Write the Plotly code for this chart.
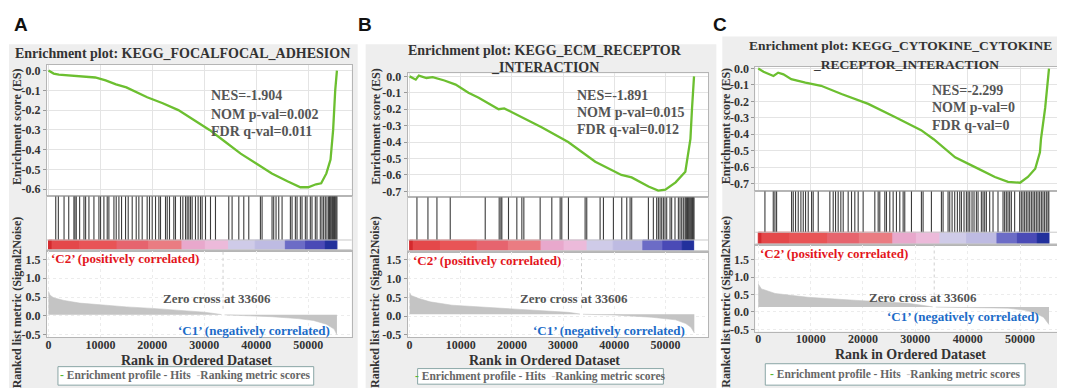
import plotly.graph_objects as go

W, H = 1065, 388
SERIF = "Liberation Serif, Times New Roman, serif"
SANS = "Liberation Sans, Arial, sans-serif"

# ---------------- DATA ----------------
panel_letters = ["A", "B", "C"]
title_lines = [
    ["Enrichment plot: KEGG_FOCALFOCAL_ADHESION"],
    ["Enrichment plot: KEGG_ECM_RECEPTOR", "_INTERACTION"],
    ["Enrichment plot: KEGG_CYTOKINE_CYTOKINE", "_RECEPTOR_INTERACTION"],
]
stats_lines = [
    ["NES=-1.904", "NOM p-val=0.002", "FDR q-val=0.011"],
    ["NES=-1.891", "NOM p-val=0.015", "FDR q-val=0.012"],
    ["NES=-2.299", "NOM p-val=0", "FDR q-val=0"],
]
zero_cross = 33606
pos_label = "‘C2’ (positively correlated)"
neg_label = "‘C1’ (negatively correlated)"

# running enrichment score
es_rank_A = [0, 1000, 2000, 4000, 7000, 9000, 11000, 13000, 15000, 17000, 19000, 22000, 25000,
             28000, 31000, 34000, 37000, 40000, 43000, 46000, 48500, 50000, 51500, 52500, 53500,
             54300, 54800, 55200, 55530]
es_A = [0, -0.015, -0.02, -0.025, -0.03, -0.035, -0.05, -0.07, -0.085, -0.11, -0.135, -0.165, -0.2,
        -0.25, -0.3, -0.36, -0.42, -0.47, -0.52, -0.56, -0.59, -0.59, -0.575, -0.57, -0.52,
        -0.45, -0.3, -0.1, 0.0]
es_rank_B = [0, 1200, 1800, 3300, 4500, 5700, 6800, 9000, 11500, 13500, 17400, 18500, 21900, 25800,
             31000, 36300, 41400, 43400, 46700, 48600, 50000, 52000, 53900, 54500, 54900, 55200, 55600]
es_B = [0, -0.02, 0.005, -0.01, -0.005, -0.015, -0.025, -0.05, -0.1, -0.13, -0.2, -0.195, -0.25, -0.31,
        -0.4, -0.52, -0.6, -0.615, -0.67, -0.695, -0.69, -0.645, -0.58, -0.46, -0.38, -0.2, 0.0]
es_rank_C = [0, 1000, 2900, 3800, 4800, 6300, 9000, 12000, 15900, 21000, 26100, 31100, 33500, 37600,
             41400, 45200, 47700, 50000, 51500, 52900, 53800, 54000, 54800, 55530]
es_C = [0, -0.02, -0.045, -0.025, -0.035, -0.065, -0.085, -0.105, -0.155, -0.215, -0.295, -0.375, -0.43,
        -0.54, -0.6, -0.66, -0.69, -0.695, -0.66, -0.61, -0.51, -0.43, -0.24, 0.0]

# gene-set hits (rank positions)
hits_A = [1400, 1900, 3000, 3900, 4900, 5100, 5350, 6000, 6830, 7150, 7790, 8750, 9710, 10030, 10670,
          11310, 11630, 12600, 13040, 13560, 14070, 14840, 15350, 16120, 16890, 17400, 18040, 19000,
          19450, 19970, 20610, 21250, 21570, 22530, 22860, 23300, 24130, 24450, 25420, 25870, 26380,
          26700, 27020, 27340, 27660, 28300, 28810, 29260, 29580, 30230, 31190, 32150, 34710, 35350,
          36640, 37600, 38560, 40800, 41120, 43040, 43360, 43810, 44330, 44970, 46570, 46890, 47530,
          47850, 48490, 48810, 49450, 49770, 50410, 50730, 51370, 51690, 52330, 52650, 52970, 53290,
          53610, 53930, 54100, 54250, 54400, 54570, 54700, 54890, 55050, 55210, 55370, 55530]
hits_B = [1430, 3580, 5340, 7940, 14780, 17510, 17840, 18030, 19330, 20960, 21940, 22330, 25520, 27800,
          29430, 29750, 31050, 34310, 34630, 37240, 37890, 39840, 41470, 42450, 43100, 43420, 46680,
          47650, 48300, 48630, 48960, 49280, 49610, 49930, 50260, 50910, 51230, 51880, 52540, 52860,
          53190, 53510, 53840, 54000, 54160, 54330, 54490, 54650, 54810, 54970, 55140, 55300, 55460,
          55600]
hits_C = [1270, 2860, 3180, 3500, 6360, 6680, 7120, 7630, 8140, 8590, 9030, 9540, 10180, 10490, 11450,
          13670, 14310, 14760, 15260, 15770, 16220, 17170, 17810, 18440, 19080, 20030, 22260, 22900,
          23210, 24170, 24490, 25120, 25760, 26390, 27030, 27670, 27980, 29260, 31160, 31480, 33070,
          34980, 35300, 36250, 36570, 37020, 37520, 38030, 38480, 38800, 39300, 39750, 40070, 40390,
          40830, 41210, 41660, 41980, 42610, 42930, 43250, 43570, 44200, 44840, 45790, 46750, 47060,
          47380, 47700, 48020, 48340, 48970, 49930, 50240, 50560, 50880, 51200, 51520, 51840, 52160,
          52480, 52790, 53110, 53430, 53750, 54070, 54380, 54700, 55020, 55340, 55500]

# ranked list metric (Signal2Noise)
met_rank_A = [0, 300, 1000, 3000, 6000, 10000, 15000, 20000, 25000, 30000, 33606, 38000, 43000, 48000,
              51000, 53500, 55000, 55530]
met_A = [0.65, 0.55, 0.48, 0.41, 0.34, 0.29, 0.24, 0.2, 0.15, 0.1, 0.03, 0.01, -0.02, -0.07,
         -0.12, -0.22, -0.35, -0.5]
met_base_A = 0.03
met_rank_B = [0, 300, 1800, 4000, 8300, 13000, 18000, 25000, 31000, 33606, 40000, 47300, 52000, 54000,
              55000, 55660]
met_B = [0.63, 0.55, 0.47, 0.38, 0.29, 0.25, 0.21, 0.15, 0.1, 0.05, 0.03, -0.03, -0.1, -0.2, -0.3, -0.45]
met_base_B = 0.05
met_rank_C = [0, 600, 3200, 9500, 19000, 28600, 33606, 40000, 47700, 51000, 52900, 54500, 55530]
met_C = [0.8, 0.66, 0.53, 0.42, 0.33, 0.25, 0.14, 0.13, 0.11, 0.05, -0.03, -0.15, -0.36]
met_base_C = 0.14

# phenotype colour bar (rank boundaries and colours)
cbar_edges = [0, 700, 6000, 13200, 19300, 25700, 30200, 34700, 39800, 45600, 49500, 53300, 55530]
cbar_colors = ['#d42a2e', '#e4484a', '#e85456', '#e6646e', '#ea7c82', '#e8a8cc', '#ecbada',
               '#cfcbe8', '#bebbe2', '#6c6cc6', '#4a4ab6', '#22309c']

x_ticks = [0, 10000, 20000, 30000, 40000, 50000]
es_ticks_A = [0.0, -0.1, -0.2, -0.3, -0.4, -0.5, -0.6]
es_ticks_BC = [0.0, -0.1, -0.2, -0.3, -0.4, -0.5, -0.6, -0.7]
met_ticks = [1.5, 1.0, 0.5, 0.0, -0.5]

datasets = [
    dict(es_x=es_rank_A, es_y=es_A, hits=hits_A, mx=met_rank_A, my=met_A, base=met_base_A, es_ticks=es_ticks_A),
    dict(es_x=es_rank_B, es_y=es_B, hits=hits_B, mx=met_rank_B, my=met_B, base=met_base_B, es_ticks=es_ticks_BC),
    dict(es_x=es_rank_C, es_y=es_C, hits=hits_C, mx=met_rank_C, my=met_C, base=met_base_C, es_ticks=es_ticks_BC),
]

# ---------------- LAYOUT (pixel geometry) ----------------
geo = [
    dict(left=38, right=343, es_top=53, es_bot=188, hits_bot=244, cb_top=233, cb_bot=243, met_bot=333,
         xr=[-290, 58370], esr=[-0.635, 0.03], metr=[-0.57, 1.73], bg=(0, 349, 32, 386), letter=(12, 12),
         tpos=[(174, 42, 'center')], tsize=14, stx=200, sty=[85, 104, 122], c2=(40, 252), zc=(208, 293),
         c1=(323, 326), xt=(188, 357), leg=(49, 305, 363, 382), ytx=8, esty=117, mety=297),
    dict(left=399, right=700, es_top=62, es_bot=189, hits_bot=245, cb_top=233, cb_bot=244, met_bot=333,
         xr=[-390, 58400], esr=[-0.735, 0.018], metr=[-0.57, 1.72], bg=(357, 708, 32, 386), letter=(356, 12),
         tpos=[(537, 38, 'center'), (537, 56, 'center')], tsize=14, stx=567, sty=[85, 102, 120],
         c2=(402, 254), zc=(566, 293), c1=(679, 326), xt=(536, 357), leg=(409, 655, 365, 381),
         ytx=367, esty=117, mety=297),
    dict(left=747, right=1057, es_top=55, es_bot=183, hits_bot=238, cb_top=225, cb_bot=237, met_bot=327,
         xr=[-570, 58590], esr=[-0.747, 0.012], metr=[-0.56, 1.92], bg=(714, 1065, 24, 386), letter=(712, 12),
         tpos=[(739, 33, 'left'), (898, 53, 'center')], tsize=13.5, stx=922, sty=[80, 97, 115],
         c2=(750, 247), zc=(915, 292), c1=(1033, 312), xt=(902, 351), leg=(757, 1017, 360, 382),
         ytx=718, esty=116, mety=296),
]

def px(x):
    return x / W

def py(y):
    return 1 - y / H

fig = go.Figure()
layout = {}
shapes = []
annotations = []

tickfont = dict(family=SERIF, size=12, color='#333333')

def bold_labels(vals):
    out = []
    for v in vals:
        s = f"{abs(v):.1f}"
        out.append(f"<b>{'-' if v < 0 else ''}{s}</b>")
    return out

def ann(x, y, text, size, color, xanchor='center', angle=0, family=SERIF):
    annotations.append(dict(x=px(x), y=py(y), xref='paper', yref='paper', text=text, showarrow=False,
                            xanchor=xanchor, yanchor='middle', textangle=angle,
                            font=dict(family=family, size=size, color=color)))

# backgrounds first
for g in geo:
    l, r, t, b = g['bg']
    shapes.append(dict(type='rect', xref='paper', yref='paper', x0=px(l), x1=px(r), y0=py(b), y1=py(t),
                       fillcolor='#eeeeee', line=dict(width=0), layer='below'))
    shapes.append(dict(type='rect', xref='paper', yref='paper', x0=px(g['left']), x1=px(g['right']),
                       y0=py(g['met_bot']), y1=py(g['es_top']), fillcolor='white', line=dict(width=0),
                       layer='below'))
    l, r, t, b = g['leg']
    shapes.append(dict(type='rect', xref='paper', yref='paper', x0=px(l), x1=px(r), y0=py(b), y1=py(t),
                       fillcolor='white', line=dict(width=1, color='#8aa6a6'), layer='below'))

for i, (d, g) in enumerate(zip(datasets, geo)):
    n1, n2, n3 = 3 * i + 1, 3 * i + 2, 3 * i + 3
    xdom = [px(g['left']), px(g['right'])]
    hh = g['hits_bot'] - g['es_bot']
    cb_y1 = (g['hits_bot'] - g['cb_top']) / hh
    cb_y0 = (g['hits_bot'] - g['cb_bot']) / hh

    common_x = dict(domain=xdom, range=g['xr'], showline=True, mirror=True, linecolor='#b5b5b5',
                    linewidth=1, zeroline=False, tickvals=x_ticks)
    # ES axes
    layout[f'xaxis{n1}'] = dict(common_x, anchor=f'y{n1}', showticklabels=False, showgrid=True,
                                gridcolor='#e4e4e4', ticks='')
    layout[f'yaxis{n1}'] = dict(domain=[py(g['es_bot']), py(g['es_top'])], range=g['esr'], anchor=f'x{n1}',
                                tickvals=d['es_ticks'], ticktext=bold_labels(d['es_ticks']),
                                showline=True, mirror=True, linecolor='#b5b5b5', showgrid=True,
                                gridcolor='#e4e4e4', zeroline=False, ticks='outside', ticklen=3,
                                tickcolor='#999999', tickfont=tickfont)
    # hits axes
    layout[f'xaxis{n2}'] = dict(common_x, anchor=f'y{n2}', showticklabels=False, showgrid=False, ticks='')
    layout[f'yaxis{n2}'] = dict(domain=[py(g['hits_bot']), py(g['es_bot'])], range=[0, 1], anchor=f'x{n2}',
                                showticklabels=False, showgrid=False, zeroline=False, showline=True,
                                mirror=True, linecolor='#c8c8c8', ticks='')
    # metric axes
    layout[f'xaxis{n3}'] = dict(common_x, anchor=f'y{n3}', showgrid=True, gridcolor='#ececec', griddash='dot',
                                ticks='', ticktext=[f"<b>{v}</b>" for v in x_ticks], tickfont=tickfont,
                                ticklabelstandoff=-4)
    layout[f'yaxis{n3}'] = dict(domain=[py(g['met_bot']), py(g['hits_bot'])], range=g['metr'], anchor=f'x{n3}',
                                tickvals=met_ticks, ticktext=bold_labels(met_ticks),
                                showline=True, mirror=True, linecolor='#b5b5b5', showgrid=True,
                                gridcolor='#ececec', griddash='dot', zeroline=False, ticks='outside',
                                ticklen=3, tickcolor='#999999', tickfont=tickfont)

    # ES curve
    fig.add_trace(go.Scatter(x=d['es_x'], y=d['es_y'], xaxis=f'x{n1}', yaxis=f'y{n1}', mode='lines',
                             line=dict(color='#6cbf30', width=2.3), hoverinfo='skip'))
    # hits
    hx, hy = [], []
    for r in d['hits']:
        hx += [r, r, None]
        hy += [cb_y1, 1, None]
    fig.add_trace(go.Scatter(x=hx, y=hy, xaxis=f'x{n2}', yaxis=f'y{n2}', mode='lines',
                             line=dict(color='#3c3c3c', width=1.1), hoverinfo='skip'))
    # colour bar
    centers = [(a + b) / 2 for a, b in zip(cbar_edges[:-1], cbar_edges[1:])]
    widths = [b - a for a, b in zip(cbar_edges[:-1], cbar_edges[1:])]
    fig.add_trace(go.Bar(x=centers, y=[cb_y1 - cb_y0] * len(centers), base=cb_y0, width=widths,
                         marker=dict(color=cbar_colors, line=dict(width=1, color=cbar_colors)),
                         xaxis=f'x{n2}', yaxis=f'y{n2}', hoverinfo='skip'))
    shapes.append(dict(type='line', xref=f'x{n2} domain', yref=f'y{n2}', x0=0, x1=1, y0=cb_y1, y1=cb_y1,
                       line=dict(color='#c8c8c8', width=1)))
    shapes.append(dict(type='line', xref=f'x{n2} domain', yref=f'y{n2}', x0=0, x1=1, y0=cb_y0, y1=cb_y0,
                       line=dict(color='#c8c8c8', width=1)))
    # metric fill
    fig.add_trace(go.Scatter(x=[d['mx'][0], d['mx'][-1]], y=[d['base'], d['base']], xaxis=f'x{n3}',
                             yaxis=f'y{n3}', mode='lines', line=dict(width=0, color='#c4c4c4'), hoverinfo='skip'))
    fig.add_trace(go.Scatter(x=d['mx'], y=d['my'], xaxis=f'x{n3}', yaxis=f'y{n3}', mode='lines',
                             fill='tonexty', fillcolor='#c4c4c4', line=dict(width=0.6, color='#c4c4c4'),
                             hoverinfo='skip'))
    # zero-cross marker
    shapes.append(dict(type='line', xref=f'x{n3}', yref=f'y{n3}', x0=zero_cross, x1=zero_cross,
                       y0=d['base'] - 0.12, y1=d['base'] + 0.16, line=dict(color='white', width=3)))
    shapes.append(dict(type='line', xref=f'x{n3}', yref=f'y{n3}', x0=zero_cross, x1=zero_cross,
                       y0=d['base'] + 0.16, y1=g['metr'][1], line=dict(color='#cfcfcf', width=1, dash='dot')))

    # texts
    ann(g['letter'][0], g['letter'][1], f"<b>{panel_letters[i]}</b>", 19, '#111111', family=SANS)
    for (tx, ty, anc), line in zip(g['tpos'], title_lines[i]):
        ann(tx, ty, f"<b>{line}</b>", g['tsize'], '#333333', xanchor=anc)
    for sy, line in zip(g['sty'], stats_lines[i]):
        ann(g['stx'], sy, f"<b>{line}</b>", 14, '#555555', xanchor='left')
    ann(g['c2'][0], g['c2'][1], f"<b>{pos_label}</b>", 13, '#e3161c', xanchor='left')
    ann(g['zc'][0], g['zc'][1], f"<b>Zero cross at {zero_cross}</b>", 13, '#555555')
    ann(g['c1'][0], g['c1'][1], f"<b>{neg_label}</b>", 13, '#1c6cc8', xanchor='right')
    ann(g['xt'][0], g['xt'][1], "<b>Rank in Ordered Dataset</b>", 14, '#333333')
    ann(g['ytx'], g['esty'], "<b>Enrichment score (ES)</b>", 12, '#333333', angle=-90)
    ann(g['ytx'], g['mety'], "<b>Ranked list metric (Signal2Noise)</b>", 12, '#333333', angle=-90)
    l, r, t, b = g['leg']
    ann((l + r) / 2, (t + b) / 2,
        "<b><span style='color:#5cb82e'>-</span> Enrichment profile - Hits  "
        "<span style='color:#c8c8c8'>-</span>Ranking metric scores</b>", 11.5, '#666666')

fig.update_layout(**layout)
fig.update_layout(width=W, height=H, margin=dict(l=0, r=0, t=0, b=0), showlegend=False,
                  paper_bgcolor='white', plot_bgcolor='rgba(0,0,0,0)', shapes=shapes,
                  annotations=annotations, barmode='overlay')
fig.write_html("out.html")
